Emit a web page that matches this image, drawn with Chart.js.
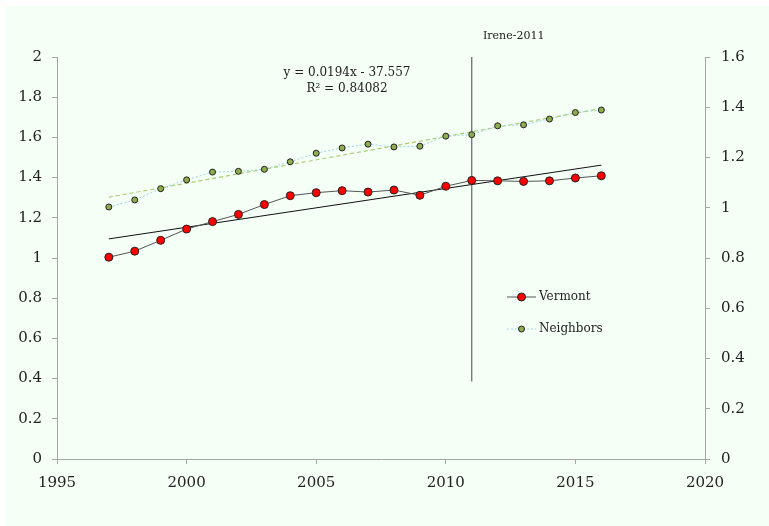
<!DOCTYPE html>
<html>
<head>
<meta charset="utf-8">
<script src="https://cdn.jsdelivr.net/npm/chart.js@4/dist/chart.umd.min.js"></script>
<style>
  html, body { margin: 0; padding: 0; background: #ffffff; }
  #wrap { width: 769px; height: 526px; }
</style>
</head>
<body>
<div id="wrap"><canvas id="grafico" width="769" height="526"></canvas></div>
<script>
// dati
var anni = [1997, 1998, 1999, 2000, 2001, 2002, 2003, 2004, 2005, 2006, 2007, 2008, 2009, 2010, 2011, 2012, 2013, 2014, 2015, 2016];
var vermont = [1.004, 1.034, 1.088, 1.144, 1.181, 1.217, 1.266, 1.310, 1.325, 1.335, 1.328, 1.338, 1.312, 1.357, 1.386, 1.384, 1.381, 1.384, 1.398, 1.409];
var neighbors = [1.003, 1.031, 1.076, 1.111, 1.142, 1.145, 1.153, 1.183, 1.217, 1.238, 1.253, 1.242, 1.245, 1.285, 1.291, 1.326, 1.330, 1.353, 1.379, 1.389];

// linee di tendenza (estremi)
var anniTrend = [1997, 2016];
var trendVermont = [1.095, 1.462];
var trendNeighbors = [1.042, 1.395];

// linea verticale Irene
var anniIrene = [2011, 2011];
var valoriIrene = [2.0, 0.385];

var tickX = [1995, 2000, 2005, 2010, 2015, 2020];
var tickSx = [0, 0.2, 0.4, 0.6, 0.8, 1, 1.2, 1.4, 1.6, 1.8, 2];
var tickDx = [0, 0.2, 0.4, 0.6, 0.8, 1, 1.2, 1.4, 1.6];

var etichettaIrene = 'Irene-2011';
var equazione = ['y = 0.0194x - 37.557', 'R² = 0.84082'];

function punti(xs, ys) {
  var out = [];
  for (var i = 0; i < xs.length; i++) out.push({x: xs[i], y: ys[i]});
  return out;
}

var FONT = "'DejaVu Serif', serif";
var GRIGIO = '#a6a6a6';

var sfondo = {
  id: 'sfondo',
  beforeDraw: function(chart) {
    var ctx = chart.ctx;
    ctx.save();
    ctx.fillStyle = '#f4fff6';
    ctx.fillRect(6, 6, chart.width - 6, chart.height - 6);
    ctx.restore();
  }
};

var testi = {
  id: 'testi',
  afterDraw: function(chart) {
    var ctx = chart.ctx;
    var sx = chart.scales.x;
    ctx.save();
    ctx.fillStyle = '#222';
    ctx.textAlign = 'center';
    ctx.textBaseline = 'middle';
    ctx.font = '11px ' + FONT;
    ctx.fillText(etichettaIrene, sx.getPixelForValue(2011) + 42, 36);
    ctx.font = '12px ' + FONT;
    ctx.fillText(equazione[0], 347, 73);
    ctx.fillText(equazione[1], 347, 89);

    // legenda
    var voci = [
      {nome: 'Vermont', ds: chart.data.datasets[0], y: 297},
      {nome: 'Neighbors', ds: chart.data.datasets[1], y: 329}
    ];
    voci.forEach(function(v) {
      ctx.beginPath();
      ctx.strokeStyle = v.ds.borderColor;
      ctx.lineWidth = v.ds.borderWidth;
      ctx.setLineDash(v.ds.borderDash || []);
      ctx.moveTo(507, v.y);
      ctx.lineTo(536, v.y);
      ctx.stroke();
      ctx.setLineDash([]);
      ctx.beginPath();
      ctx.arc(521.5, v.y, v.ds.pointRadius, 0, Math.PI * 2);
      ctx.fillStyle = v.ds.pointBackgroundColor;
      ctx.fill();
      ctx.lineWidth = 1;
      ctx.strokeStyle = '#222';
      ctx.stroke();
      ctx.fillStyle = '#222';
      ctx.textAlign = 'left';
      ctx.font = '12px ' + FONT;
      ctx.fillText(v.nome, 539, v.y);
    });
    ctx.restore();
  }
};

var fmt = function(v) { return String(+v.toFixed(1)); };

new Chart(document.getElementById('grafico'), {
  type: 'line',
  data: {
    datasets: [{
      label: 'Vermont',
      data: punti(anni, vermont),
      yAxisID: 'ySx',
      borderColor: '#555555',
      borderWidth: 1,
      pointRadius: 4,
      pointBackgroundColor: '#ff0000',
      pointBorderColor: '#222',
      pointBorderWidth: 1,
      order: 1
    }, {
      label: 'Neighbors',
      data: punti(anni, neighbors),
      yAxisID: 'yDx',
      borderColor: '#9fd3e6',
      borderWidth: 1,
      borderDash: [2, 2],
      pointRadius: 3,
      pointBackgroundColor: '#8fac4e',
      pointBorderColor: '#222',
      pointBorderWidth: 1,
      order: 2
    }, {
      label: 'trend Vermont',
      data: punti(anniTrend, trendVermont),
      yAxisID: 'ySx',
      borderColor: '#111',
      borderWidth: 1,
      pointRadius: 0,
      order: 3
    }, {
      label: 'trend Neighbors',
      data: punti(anniTrend, trendNeighbors),
      yAxisID: 'yDx',
      borderColor: '#a9cf6a',
      borderWidth: 1.2,
      borderDash: [4, 3],
      pointRadius: 0,
      order: 4
    }, {
      label: 'Irene',
      data: punti(anniIrene, valoriIrene),
      yAxisID: 'ySx',
      borderColor: '#6f6f6f',
      borderWidth: 1.3,
      pointRadius: 0,
      clip: false,
      order: 5
    }]
  },
  options: {
    responsive: false,
    animation: false,
    layout: { padding: { top: 57, left: 0, right: 0, bottom: 0 } },
    plugins: { legend: { display: false }, tooltip: { enabled: false } },
    scales: {
      x: {
        type: 'linear',
        min: 1995, max: 2020,
        afterBuildTicks: function(s) { s.ticks = tickX.map(function(v) { return {value: v}; }); },
        afterFit: function(s) { s.height = 67; },
        border: { color: GRIGIO, width: 1 },
        grid: { drawOnChartArea: false, tickLength: 5, color: GRIGIO },
        ticks: { color: '#222', font: { family: FONT, size: 15 }, padding: 10, maxRotation: 0,
                 callback: function(v) { return String(v); } }
      },
      ySx: {
        position: 'left',
        min: 0, max: 2,
        afterBuildTicks: function(s) { s.ticks = tickSx.map(function(v) { return {value: v}; }); },
        afterFit: function(s) { s.width = 57; },
        border: { color: GRIGIO, width: 1 },
        grid: { drawOnChartArea: false, tickLength: 5, color: GRIGIO },
        ticks: { color: '#222', font: { family: FONT, size: 15 }, padding: 10, callback: fmt }
      },
      yDx: {
        position: 'right',
        min: 0, max: 1.6,
        afterBuildTicks: function(s) { s.ticks = tickDx.map(function(v) { return {value: v}; }); },
        afterFit: function(s) { s.width = 64; },
        border: { color: GRIGIO, width: 1 },
        grid: { drawOnChartArea: false, tickLength: 5, color: GRIGIO },
        ticks: { color: '#222', font: { family: FONT, size: 15 }, padding: 11, callback: fmt }
      }
    }
  },
  plugins: [sfondo, testi]
});
</script>
</body>
</html>
